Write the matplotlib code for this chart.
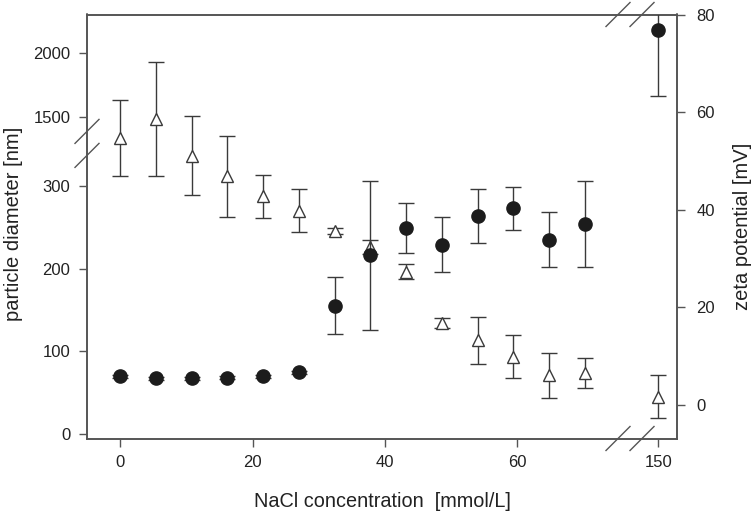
import numpy as np
import matplotlib
matplotlib.use("Agg")
import matplotlib.pyplot as plt

plt.rcParams['font.family'] = ['Liberation Sans', 'DejaVu Sans']

# NaCl concentration [mmol/L]
conc = [0, 5.4, 10.8, 16.2, 21.6, 27, 32.4, 37.8, 43.2, 48.6, 54, 59.4, 64.8, 70.2, 150]
# particle diameter [nm] (left axis, filled circles)
diam = [70, 67.5, 67.5, 68.5, 70, 75, 155, 216, 249, 229, 263.5, 272.7, 235, 253.8, 2180]
diam_err = [2, 2, 2, 2, 2, 2, 34.5, 90, 30, 33.5, 33, 26, 33, 51.5, 520]
# zeta potential [mV] (right axis, open triangles)
zeta = [54.7, 58.6, 51.1, 46.8, 42.7, 39.75, 35.7, 32.3, 27.3, 16.7, 13.2, 9.9, 6.1, 6.5, 1.7]
zeta_err = [7.7, 11.7, 8.0, 8.3, 4.4, 4.4, 0.6, 1.4, 1.6, 1.0, 4.8, 4.4, 4.6, 3.0, 4.5]

xticks = [0, 20, 40, 60, 150]
yticks_left = [0, 100, 200, 300, 1500, 2000]
yticks_right = [0, 20, 40, 60, 80]

# axes coupés : échelles linéaires par morceaux
xp_x = [-100, 76.9, 145.7, 400]
fp_x = [-100, 76.9, 77.0, 77.0 + 254.3]
xp_y = [-100, 350, 1300, 3000]
fp_y = [-83, 290.5, 292.5, 292.5 + 1700 * 0.128]

def fx(v): return np.interp(v, xp_x, fp_x)
def ifx(v): return np.interp(v, fp_x, xp_x)
def fy(v): return np.interp(v, xp_y, fp_y)
def ify(v): return np.interp(v, fp_y, xp_y)

gris = '#3a3a3a'
spine_c = '#555555'
txt_c = '#222222'

fig = plt.figure(figsize=(7.51, 5.11), dpi=100)
ax = fig.add_axes([87/751, 1 - 438.5/511, 590/751, 424/511])
ax2 = ax.twinx()

ax.set_xscale('function', functions=(fx, ifx))
ax.set_yscale('function', functions=(fy, ify))

ax2.errorbar(conc, zeta, yerr=zeta_err, fmt='^', ms=8, mfc='white', mec=gris,
             mew=1.0, ecolor=gris, elinewidth=1.0, capsize=6, capthick=1.0, zorder=2)
ax.errorbar(conc, diam, yerr=diam_err, fmt='o', ms=9.5, mfc='#1c1c1c', mec='#1c1c1c',
            ecolor=gris, elinewidth=1.0, capsize=6, capthick=1.0, zorder=3)
ax.set_zorder(ax2.get_zorder() + 1)
ax.patch.set_visible(False)

ax.set_xlim(-5, 152.8)
ax.set_ylim(-5, 2300)
ax2.set_ylim(-6.9, 80)

ax.set_xticks(xticks)
ax.set_xticklabels([str(t) for t in xticks])
ax.set_yticks(yticks_left)
ax.set_yticklabels([str(t) for t in yticks_left])
ax.minorticks_off()
ax2.set_yticks(yticks_right)
ax2.set_yticklabels([str(t) for t in yticks_right])

for a in (ax, ax2):
    for s in a.spines.values():
        s.set_color(spine_c)
        s.set_linewidth(1.2)
    a.tick_params(direction='out', length=6, width=1.0, color=spine_c,
                  labelsize=12, labelcolor=txt_c, pad=6)
ax2.tick_params(axis='y', pad=8)

ax.set_xlabel("NaCl concentration  [mmol/L]", fontsize=14.3, color=txt_c)
ax.set_ylabel("particle diameter [nm]", fontsize=14.5, color=txt_c)
ax2.set_ylabel("zeta potential [mV]", fontsize=14.5, color=txt_c)
ax.xaxis.set_label_coords(0.5, -0.125)
ax.yaxis.set_label_coords(-0.108, 0.506)
ax2.yaxis.set_label_coords(1.095, 0.501)

# marques de coupure
dx = 12 / 590
dy = 12 / 424
kw = dict(transform=ax.transAxes, color=spine_c, lw=1.0, clip_on=False, zorder=5)
ybreak = 0.696
for yc in (ybreak + dy, ybreak - dy):
    ax.plot([-dx, dx], [yc - dy, yc + dy], **kw)
for xc in (0.900, 0.9407):
    for yb in (0, 1):
        ax.plot([xc - dx, xc + dx], [yb - dy, yb + dy], **kw)

fig.savefig("out.png", dpi=100)
